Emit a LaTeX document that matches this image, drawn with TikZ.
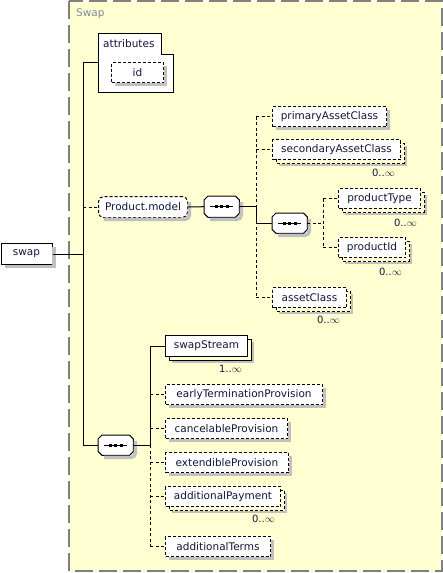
\documentclass[tikz,border=0pt]{standalone}
\usepackage{fontspec}
\setmainfont{DejaVu Sans}
\definecolor{bgc}{HTML}{FFFFD2}
\definecolor{framec}{HTML}{808080}
\definecolor{shdw}{HTML}{C0C0C0}
\definecolor{txtc}{HTML}{14143C}
\definecolor{titlec}{HTML}{7F8A96}
\tikzset{
  every node/.style={font=\fontsize{10.5}{12}\selectfont, text=txtc},
  el/.style={draw, fill=white, line width=1pt, minimum height=20pt, inner sep=0pt, anchor=north west},
  opt/.style={dash pattern=on 3pt off 2pt},
  seqbox/.style={minimum width=35pt, minimum height=21pt, inner sep=0pt, anchor=north west},
  conn/.style={line width=1pt},
  dconn/.style={line width=1pt, dash pattern=on 3pt off 2.5pt},
  card/.style={anchor=east, inner sep=0pt, font=\fontsize{10}{12}\selectfont},
}
% shadow band of a single box (x0,y0)-(x1,y1)
\newcommand\shs[4]{\draw[draw=shdw, line width=3.5pt, line join=miter, line cap=butt] ({#3+2.25},{#2+4}) -- ({#3+2.25},{#4+2.25}) -- ({#1+4},{#4+2.25});}
% rounded shadow band
\newcommand\shr[4]{\draw[draw=shdw, line width=3.5pt, line cap=butt, rounded corners=4pt] ({#3+2.25},{#2+6}) -- ({#3+2.25},{#4+2.25}) -- ({#1+6},{#4+2.25});}
% shadow band of a repeated box
\newcommand\shm[4]{\draw[draw=shdw, line width=2.5pt, line join=miter, line cap=butt] ({#3+5.75},{#2+7}) -- ({#3+5.75},{#4+5.75}) -- ({#1+7},{#4+5.75});}
% visible outline of the back copy of a repeated box
\newcommand\cpy[5]{\draw[line width=1pt, #5] ({#1+4},#4) -- ({#1+4},{#4+4}) -- ({#3+4},{#4+4}) -- ({#3+4},{#2+4}) -- (#3,{#2+4});}
% octagonal outline of a sequence compositor
\newcommand\seqmark[1]{%
  \filldraw[fill=white, line width=1pt]
  ([xshift=4pt]#1.north west) -- ([xshift=-4pt]#1.north east) -- ([yshift=-4pt]#1.north east)
  -- ([yshift=4pt]#1.south east) -- ([xshift=-4pt]#1.south east) -- ([xshift=4pt]#1.south west)
  -- ([yshift=4pt]#1.south west) -- ([yshift=-4pt]#1.north west) -- cycle;
  \draw[line width=1pt] ([xshift=6pt]#1.west) -- ([xshift=-6pt]#1.east);
  \fill[black] ([xshift=-7pt,yshift=-1.5pt]#1.center) rectangle ++(3pt,3pt);
  \fill[black] ([xshift=-1.5pt,yshift=-1.5pt]#1.center) rectangle ++(3pt,3pt);
  \fill[black] ([xshift=4pt,yshift=-1.5pt]#1.center) rectangle ++(3pt,3pt);}
\begin{document}
\begin{tikzpicture}[x=1pt,y=-1pt]
\useasboundingbox (0,0) rectangle (443,573);
% container
\draw[framec, line width=2pt, dash pattern=on 18pt off 6pt, fill=bgc] (69,1) rectangle (442,571);
\node[anchor=west, text=titlec, inner sep=0pt] (title) at (76,14) {Swap};

% root
\node[el, minimum width=51pt, minimum height=21pt] (swap) at (0.5,243) {swap};

% attributes
\draw[line width=1pt, fill=white] (98,33) -- (161,33) -- (161,54) -- (173,54) -- (173,92) -- (98,92) -- cycle;
\node[anchor=west, inner sep=0pt] (attrs) at (103,43.5) {attributes};
\coordinate (attrpt) at (98,62);
\node[el, opt, minimum width=52pt] (id) at (111,62) {id};

% Product.model group
\node[el, opt, rounded corners=5pt, minimum width=89pt, minimum height=21pt] (pm) at (98,196) {Product.model};
\node[seqbox] (s1) at (204,196) {};
\seqmark{s1}

\node[el, opt, minimum width=114pt] (pac) at (272,106) {primaryAssetClass};
\node[el, opt, minimum width=128pt] (sac) at (272,139) {secondaryAssetClass};
\node[card] (sacc) at (395,173) {0..\(\infty\)};

\node[seqbox, minimum height=20pt] (s3) at (272,213) {};
\seqmark{s3}
\node[el, opt, minimum width=82pt] (ptype) at (338,188) {productType};
\node[card] (ptypec) at (417,223) {0..\(\infty\)};
\node[el, opt, minimum width=67pt] (pid) at (338,237) {productId};
\node[card] (pidc) at (402,272) {0..\(\infty\)};

\node[el, opt, minimum width=74pt] (ac) at (272,287) {assetClass};
\node[card] (acc) at (340,320) {0..\(\infty\)};

% sequence 2
\node[seqbox, minimum height=20pt] (s2) at (98,435) {};
\seqmark{s2}
\node[el, minimum width=82pt, minimum height=21pt] (ss) at (165,335) {swapStream};
\node[card] (ssc) at (242,369) {1..\(\infty\)};
\node[el, opt, minimum width=157pt] (etp) at (165,384) {earlyTerminationProvision};
\node[el, opt, minimum width=122pt] (cp) at (165,418) {cancelableProvision};
\node[el, opt, minimum width=123pt] (ep) at (165,452) {extendibleProvision};
\node[el, opt, minimum width=115pt] (ap) at (165,486) {additionalPayment};
\node[card] (apc) at (275,519) {0..\(\infty\)};
\node[el, opt, minimum width=105pt] (at) at (165,536) {additionalTerms};

% shadows of single elements
\shs{0.5}{243}{51.5}{264}
\shs{111}{62}{163}{82}
\shr{98}{196}{187}{217}
\shr{204}{196}{239}{217}
\shr{272}{213}{307}{233}
\shr{98}{435}{133}{455}
\shs{272}{106}{386}{126}
\shs{165}{384}{322}{404}
\shs{165}{418}{287}{438}
\shs{165}{452}{288}{472}
\shs{165}{536}{270}{556}
% back copies and shadows of repeated elements
\cpy{272}{139}{400}{159}{opt}\shm{272}{139}{400}{159}
\cpy{338}{188}{420}{208}{opt}\shm{338}{188}{420}{208}
\cpy{338}{237}{405}{257}{opt}\shm{338}{237}{405}{257}
\cpy{272}{287}{346}{307}{opt}\shm{272}{287}{346}{307}
\cpy{165}{335}{247}{356}{}\shm{165}{335}{247}{356}
\cpy{165}{486}{280}{506}{opt}\shm{165}{486}{280}{506}

% connectors
\coordinate (v1) at (83,62);
\coordinate (v2) at (256,0);
\coordinate (v3) at (323,0);
\coordinate (v4) at (150,0);
\draw[conn] (v1) -- (s2.west -| v1);
\draw[conn] (swap.east) -- (swap.east -| v1);
\draw[conn] (v1) -- (attrpt);
\draw[dconn] (pm.west -| v1) -- (pm.west);
\draw[conn] (s2.west -| v1) -- (s2.west);
\draw[conn] (pm.east) -- (s1.west);

\draw[dconn] (pac.west -| v2) -- (ac.west -| v2);
\draw[conn] (s1.east) -- (s1.east -| v2) -- (s3.west -| v2) -- (s3.west);
\draw[dconn] (pac.west -| v2) -- (pac.west);
\draw[dconn] (sac.west -| v2) -- (sac.west);
\draw[dconn] (ac.west -| v2) -- (ac.west);

\draw[dconn] (s3.east) -- (s3.east -| v3);
\draw[dconn] (ptype.west -| v3) -- (pid.west -| v3);
\draw[dconn] (ptype.west -| v3) -- (ptype.west);
\draw[dconn] (pid.west -| v3) -- (pid.west);

\draw[conn] (s2.east) -- (s2.east -| v4);
\draw[conn] (s2.east -| v4) -- (ss.west -| v4) -- (ss.west);
\draw[dconn] (s2.east -| v4) -- (at.west -| v4);
\draw[dconn] (etp.west -| v4) -- (etp.west);
\draw[dconn] (cp.west -| v4) -- (cp.west);
\draw[dconn] (ep.west -| v4) -- (ep.west);
\draw[dconn] (ap.west -| v4) -- (ap.west);
\draw[dconn] (at.west -| v4) -- (at.west);
\end{tikzpicture}
\end{document}
